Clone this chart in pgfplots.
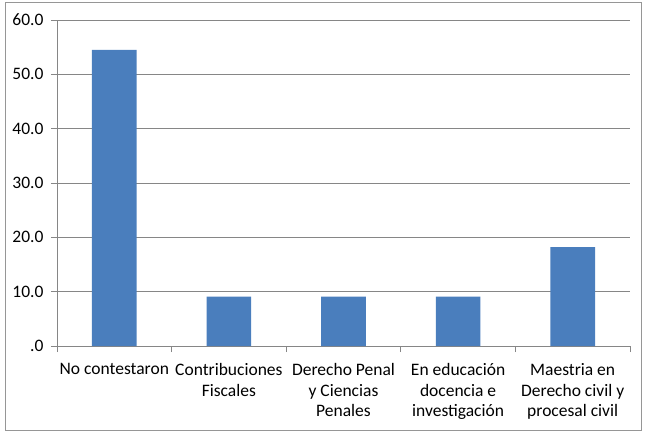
\documentclass[border=0pt]{standalone}
\usepackage{fontspec}
\setmainfont{Carlito}
\usepackage{pgfplots}
\pgfplotsset{compat=1.18}
\definecolor{barblue}{RGB}{74,126,189}
\definecolor{gridgray}{RGB}{134,134,134}
\definecolor{framegray}{RGB}{150,150,150}

\begin{document}
\begin{tikzpicture}[x=1pt,y=1pt]
\begin{axis}[
  name=ax, at={(0,0)}, anchor=south west,
  width=573pt, height=326pt, scale only axis,
  xmin=-0.5, xmax=4.5, ymin=0, ymax=60,
  axis x line*=bottom, axis y line*=left,
  axis line style={-, gridgray, line width=0.8pt},
  ytick={0,10,...,60},
  yticklabels={.0,10.0,20.0,30.0,40.0,50.0,60.0},
  ymajorgrids, grid style={gridgray, line width=0.8pt},
  xtick={0,...,4},
  xticklabels={No contestaron,Contribuciones\\Fiscales,Derecho Penal\\y Ciencias\\Penales,En educación\\docencia e\\investigación,Maestria en\\Derecho civil y\\procesal civil},
  minor xtick={-0.5,0.5,...,4.5},
  tick align=outside, major tick length=6pt, minor tick length=6pt,
  tick style={gridgray, line width=0.8pt},
  major x tick style={draw=none},
  tick label style={font=\fontsize{17.5}{20.5}\selectfont},
  y tick label style={xshift=-4pt},
  x tick label style={align=center, yshift=-8pt},
  ybar, bar width=0.39,
]
\addplot[fill=barblue, draw=none] coordinates {(0,54.5)(1,9.1)(2,9.1)(3,9.1)(4,18.2)};
\end{axis}
\draw[framegray, line width=0.8pt] (-52,-84) rectangle (584,344);
\path (-57,-86) rectangle (589,346);
\end{tikzpicture}
\end{document}
